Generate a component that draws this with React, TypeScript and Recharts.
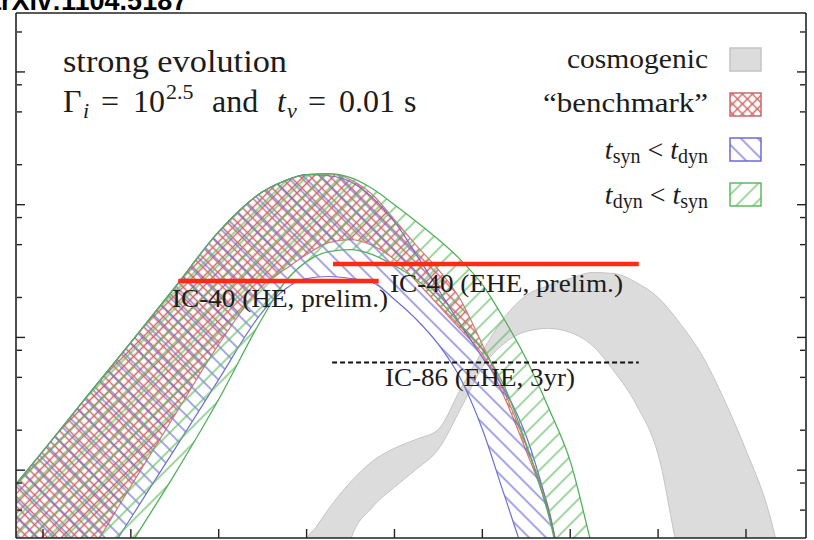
import { Area, ComposedChart, Line, XAxis, YAxis } from "recharts";

// x: log10(E / GeV), y: log10(E^2 flux)
const grbE = [2.6, 3.0, 3.5, 4.0, 4.5, 5.0, 5.5, 5.75, 6.0, 6.25, 6.5, 6.75, 7.0, 7.25, 7.5, 7.75, 8.0, 8.25, 8.5, 8.75, 9.0, 9.25, 9.5];

const benchHigh = [-10.18, -9.857, -9.444, -9.038, -8.624, -8.203, -7.902, -7.82, -7.774, -7.767, -7.812, -7.925, -8.113, -8.308, -8.489, -8.714, -9.053, -9.406, -9.82, -10.278, -11.0, -11.2, -11.3];
const benchLow = [-12.0, -11.21, -10.67, -10.12, -9.586, -9.053, -8.609, -8.489, -8.376, -8.286, -8.263, -8.308, -8.414, -8.579, -8.759, -8.94, -9.128, -9.451, -9.857, -10.31, -11.0, -11.2, -11.3];

const synHigh = [-10.18, -9.857, -9.444, -9.038, -8.624, -8.203, -7.902, -7.82, -7.774, -7.782, -7.827, -7.947, -8.128, -8.376, -8.639, -8.902, -9.15, -9.391, -9.744, -10.293, -11.0, -11.2, -11.3];
const synLow = [-12.0, -11.4, -10.88, -10.36, -9.842, -9.316, -8.805, -8.639, -8.556, -8.541, -8.556, -8.586, -8.714, -8.865, -9.053, -9.308, -9.692, -10.188, -10.669, -11.0, -11.1, -11.2, -11.3];

const dynHigh = [-10.18, -9.857, -9.444, -9.038, -8.624, -8.203, -7.902, -7.82, -7.774, -7.767, -7.797, -7.88, -8.0, -8.128, -8.263, -8.414, -8.602, -8.865, -9.165, -9.526, -9.932, -10.58, -11.2];
const dynLow = [-12.0, -11.68, -11.12, -10.56, -10.03, -9.466, -8.85, -8.586, -8.429, -8.353, -8.338, -8.376, -8.459, -8.564, -8.714, -8.902, -9.09, -9.368, -9.805, -10.331, -11.0, -11.2, -11.3];

const cosmoE = [5.9, 6.0, 6.1, 6.25, 6.4, 6.5, 6.75, 7.0, 7.25, 7.5, 7.75, 8.0, 8.25, 8.5, 8.75, 9.0, 9.25, 9.5, 9.75, 10.0, 10.25, 10.5, 10.75, 11.0, 11.25, 11.5];
const cosmoHigh = [-11.0, -10.526, -10.436, -10.293, -10.165, -10.09, -9.932, -9.835, -9.767, -9.692, -9.391, -9.105, -8.85, -8.684, -8.609, -8.556, -8.511, -8.519, -8.586, -8.699, -8.895, -9.135, -9.466, -9.85, -10.293, -11.0];
const cosmoLow = [-11.0, -11.0, -11.0, -11.0, -11.0, -10.526, -10.278, -10.128, -9.992, -9.842, -9.541, -9.226, -9.045, -8.955, -8.932, -8.962, -9.06, -9.256, -9.504, -9.88, -10.669, -11.0, -11.0, -11.0, -11.0, -11.0];

// experimental limits
const ic40HeE = [4.54, 6.82];
const ic40HeFlux = [-8.575, -8.575];
const ic40EheE = [6.3, 9.78];
const ic40EheFlux = [-8.447, -8.447];
const ic86EheE = [6.29, 9.78];
const ic86EheFlux = [-9.188, -9.188];

const xMajor = [3, 4, 5, 6, 7, 8, 9, 10, 11];
const yMajor = [-10, -9, -8, -7];
const yMinor = [-10.301, -10.097, -9.699, -9.301, -9.097, -8.699, -8.301, -8.097, -7.699, -7.301, -7.097, -6.699];

const X_DOMAIN: [number, number] = [2.693, 11.683];
const Y_DOMAIN: [number, number] = [-10.511, -6.556];

const band = (xs: number[], lo: number[], hi: number[]) =>
  xs.map((e, i) => ({ e, range: [lo[i], hi[i]] }));
const seg = (xs: number[], ys: number[]) => xs.map((e, i) => ({ e, flux: ys[i] }));

const serif = '"Liberation Serif", "Times New Roman", serif';
const ink = "#1c1c1c";
const frame = { stroke: "#222", strokeWidth: 1.6 };
const tickStyle = { stroke: "#222", strokeWidth: 1.4 };
// tick marks only, no labels
const noLabel = () => <g />;

export default function App() {
  return (
    <div style={{ position: "absolute", left: 0, top: 0, width: 814, height: 540, background: "#fff" }}>
      <ComposedChart width={814} height={540} margin={{ top: 13, right: 8, bottom: 2, left: 16 }}>
        <XAxis xAxisId="b" dataKey="e" type="number" domain={X_DOMAIN} allowDataOverflow ticks={xMajor}
          interval={0} mirror height={1} tick={noLabel} tickSize={9} axisLine={frame} tickLine={tickStyle} />
        <XAxis xAxisId="t" orientation="top" type="number" domain={X_DOMAIN} allowDataOverflow ticks={xMajor}
          interval={0} mirror height={1} tick={noLabel} tickSize={9} axisLine={frame} tickLine={tickStyle} />
        <YAxis yAxisId="l" type="number" domain={Y_DOMAIN} allowDataOverflow ticks={yMajor}
          interval={0} mirror width={1} tick={noLabel} tickSize={9} axisLine={frame} tickLine={tickStyle} />
        <YAxis yAxisId="lm" type="number" domain={Y_DOMAIN} allowDataOverflow ticks={yMinor}
          interval={0} mirror width={1} tick={noLabel} tickSize={5} axisLine={false} tickLine={tickStyle} />
        <YAxis yAxisId="r" orientation="right" type="number" domain={Y_DOMAIN} allowDataOverflow ticks={yMajor}
          interval={0} mirror width={1} tick={noLabel} tickSize={9} axisLine={frame} tickLine={tickStyle} />
        <YAxis yAxisId="rm" orientation="right" type="number" domain={Y_DOMAIN} allowDataOverflow ticks={yMinor}
          interval={0} mirror width={1} tick={noLabel} tickSize={5} axisLine={false} tickLine={tickStyle} />

        <Area xAxisId="b" yAxisId="l" data={band(cosmoE, cosmoLow, cosmoHigh)} dataKey="range" type="monotone"
          fill="#dcdcdc" fillOpacity={1} stroke="#c4c4c4" strokeWidth={1} dot={false} activeDot={false}
          isAnimationActive={false} />
        <Area xAxisId="b" yAxisId="l" data={band(grbE, benchLow, benchHigh)} dataKey="range" type="monotone"
          fill="url(#hatchRed)" fillOpacity={1} stroke="#d27a7a" strokeWidth={1.2} dot={false} activeDot={false}
          isAnimationActive={false} />
        <Area xAxisId="b" yAxisId="l" data={band(grbE, synLow, synHigh)} dataKey="range" type="monotone"
          fill="url(#hatchBlue)" fillOpacity={1} stroke="#6f6fd2" strokeWidth={1.2} dot={false} activeDot={false}
          isAnimationActive={false} />
        <Area xAxisId="b" yAxisId="l" data={band(grbE, dynLow, dynHigh)} dataKey="range" type="monotone"
          fill="url(#hatchGreen)" fillOpacity={1} stroke="#52b05c" strokeWidth={1.3} dot={false} activeDot={false}
          isAnimationActive={false} />

        <Line xAxisId="b" yAxisId="l" data={seg(ic40HeE, ic40HeFlux)} dataKey="flux" type="linear"
          stroke="#ff2a12" strokeWidth={4.5} dot={false} activeDot={false} isAnimationActive={false} />
        <Line xAxisId="b" yAxisId="l" data={seg(ic40EheE, ic40EheFlux)} dataKey="flux" type="linear"
          stroke="#ff2a12" strokeWidth={4.5} dot={false} activeDot={false} isAnimationActive={false} />
        <Line xAxisId="b" yAxisId="l" data={seg(ic86EheE, ic86EheFlux)} dataKey="flux" type="linear"
          stroke="#111" strokeWidth={2} strokeDasharray="5 3" dot={false} activeDot={false}
          isAnimationActive={false} />
      </ComposedChart>

      <svg width={814} height={540} style={{ position: "absolute", left: 0, top: 0, pointerEvents: "none" }}>
        <defs>
          <pattern id="hatchRed" width="7" height="7" patternUnits="userSpaceOnUse" patternTransform="rotate(45)">
            <line x1="0" y1="3.5" x2="7" y2="3.5" stroke="#cc6a6a" strokeWidth="1.5" />
            <line x1="3.5" y1="0" x2="3.5" y2="7" stroke="#cc6a6a" strokeWidth="1.5" />
          </pattern>
          <pattern id="hatchBlue" width="12" height="12" patternUnits="userSpaceOnUse" patternTransform="rotate(45)">
            <line x1="0" y1="6" x2="12" y2="6" stroke="#6b6bd6" strokeWidth="1.2" />
          </pattern>
          <pattern id="hatchGreen" width="12" height="12" patternUnits="userSpaceOnUse" patternTransform="rotate(-45)">
            <line x1="0" y1="6" x2="12" y2="6" stroke="#5cbc5f" strokeWidth="1.2" />
          </pattern>
        </defs>

        <text x={-14} y={10} fontFamily='"Liberation Sans", Arial, sans-serif' fontWeight="bold" fontSize={27} fill="#000">
          arXiv:1104.5187
        </text>

        <g fontFamily={serif} fill={ink} style={{ whiteSpace: "pre" }}>
          <text x={63} y={72} fontSize={32} textLength={224} lengthAdjust="spacingAndGlyphs">strong evolution</text>
          <text y={112} fontSize={32}>
            <tspan x={63}>Γ</tspan>
            <tspan x={83} dy={6} fontSize={22} fontStyle="italic">i</tspan>
            <tspan x={101} dy={-6}>=</tspan>
            <tspan x={133}>10</tspan>
            <tspan x={166} dy={-13} fontSize={22}>2.5</tspan>
            <tspan x={212} dy={13}>and</tspan>
            <tspan x={277} fontStyle="italic">t</tspan>
            <tspan x={287} dy={6} fontSize={22} fontStyle="italic">v</tspan>
            <tspan x={308} dy={-6}>=</tspan>
            <tspan x={339}>0.01</tspan>
            <tspan x={404}>s</tspan>
          </text>

          <text x={172} y={307} fontSize={25} textLength={216} lengthAdjust="spacingAndGlyphs">IC-40 (HE, prelim.)</text>
          <text x={390} y={292} fontSize={25} textLength={233} lengthAdjust="spacingAndGlyphs">IC-40 (EHE, prelim.)</text>
          <text x={385} y={386} fontSize={25} textLength={190} lengthAdjust="spacingAndGlyphs">IC-86 (EHE, 3yr)</text>

          <text x={567} y={68} fontSize={28} textLength={141} lengthAdjust="spacingAndGlyphs">cosmogenic</text>
          <text x={543} y={112} fontSize={28} textLength={165} lengthAdjust="spacingAndGlyphs">“benchmark”</text>
          <text x={708} y={159} fontSize={28} textAnchor="end">
            <tspan fontStyle="italic">t</tspan>
            <tspan dy={4} fontSize={20}>syn</tspan>
            <tspan dy={-4}> &lt; </tspan>
            <tspan fontStyle="italic">t</tspan>
            <tspan dy={4} fontSize={20}>dyn</tspan>
          </text>
          <text x={708} y={204} fontSize={28} textAnchor="end">
            <tspan fontStyle="italic">t</tspan>
            <tspan dy={4} fontSize={20}>dyn</tspan>
            <tspan dy={-4}> &lt; </tspan>
            <tspan fontStyle="italic">t</tspan>
            <tspan dy={4} fontSize={20}>syn</tspan>
          </text>
        </g>

        <rect x={730} y={48} width={31} height={23} fill="#dcdcdc" stroke="#c4c4c4" strokeWidth={1.5} />
        <rect x={730} y={93} width={31} height={23} fill="url(#hatchRed)" stroke="#cc6a6a" strokeWidth={1.5} />
        <rect x={730} y={138} width={31} height={23} fill="url(#hatchBlue)" stroke="#6b6bd6" strokeWidth={1.5} />
        <rect x={730} y={183} width={31} height={23} fill="url(#hatchGreen)" stroke="#5cbc5f" strokeWidth={1.5} />
      </svg>
    </div>
  );
}
